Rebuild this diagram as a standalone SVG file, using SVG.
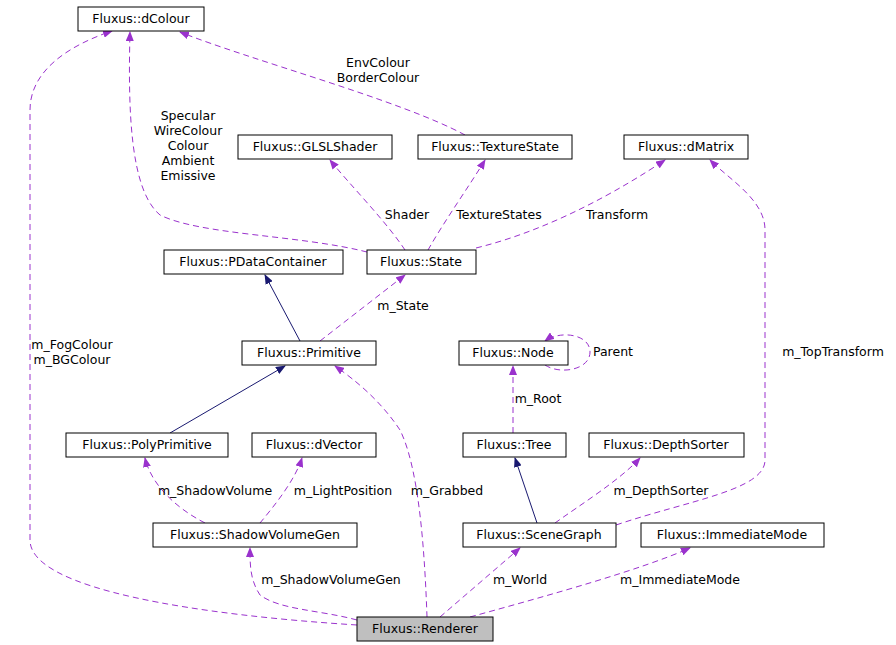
<svg xmlns="http://www.w3.org/2000/svg" width="896" height="645" viewBox="0 0 896 645">
<style>
.n rect{fill:#fff;stroke:#000;stroke-width:1}
text{font-family:"DejaVu Sans",sans-serif;font-size:12.5px;fill:#000;text-anchor:middle}
.d{fill:none;stroke:#9a32cd;stroke-width:1;stroke-dasharray:6,4}
.s{fill:none;stroke:#191970;stroke-width:1}
</style>
<defs>
<marker id="ap" markerWidth="10" markerHeight="8" refX="9" refY="4" orient="auto" markerUnits="userSpaceOnUse"><path d="M0,0L10,4L0,8z" fill="#9a32cd"/></marker>
<marker id="an" markerWidth="10" markerHeight="8" refX="9" refY="4" orient="auto" markerUnits="userSpaceOnUse"><path d="M0,0L10,4L0,8z" fill="#191970"/></marker>
</defs>
<rect width="896" height="645" fill="#fff"/>
<g id="connectors">
<path class="d" marker-end="url(#ap)" d="M357,625 C200,615 30,590 30,540 L30,110 C30,70 70,45 112,31"/>
<path class="d" marker-end="url(#ap)" d="M367,252 C300,235 200,235 160,215 C130,190 128,110 130,32"/>
<path class="d" marker-end="url(#ap)" d="M465,135 C400,100 250,60 180,32"/>
<path class="d" marker-end="url(#ap)" d="M405,250 C385,220 350,185 330,160"/>
<path class="d" marker-end="url(#ap)" d="M428,250 C445,220 470,185 485,160"/>
<path class="d" marker-end="url(#ap)" d="M476,248 C550,230 620,190 665,160"/>
<path class="s" marker-end="url(#an)" d="M300,341 L265,275"/>
<path class="d" marker-end="url(#ap)" d="M320,341 L405,275"/>
<path class="d" marker-end="url(#ap)" d="M545,365 C560,375 590,370 590,352 C590,334 560,330 545,341"/>
<path class="d" marker-end="url(#ap)" d="M513,433 L513,366"/>
<path class="s" marker-end="url(#an)" d="M170,433 L285,366"/>
<path class="d" marker-end="url(#ap)" d="M205,523 C170,505 150,480 145,458"/>
<path class="d" marker-end="url(#ap)" d="M260,523 C275,505 295,480 302,458"/>
<path class="d" marker-end="url(#ap)" d="M427,617 C425,560 420,470 400,430 C380,400 355,380 335,366"/>
<path class="s" marker-end="url(#an)" d="M537,523 L515,458"/>
<path class="d" marker-end="url(#ap)" d="M555,523 C580,505 620,480 640,458"/>
<path class="d" marker-end="url(#ap)" d="M616,525 C690,500 765,490 765,460 L765,230 C765,200 730,180 710,160"/>
<path class="d" marker-end="url(#ap)" d="M357,620 C320,610 280,610 260,595 C250,580 250,565 250,548"/>
<path class="d" marker-end="url(#ap)" d="M440,617 L520,548"/>
<path class="d" marker-end="url(#ap)" d="M470,617 C550,595 640,570 690,548"/>
<text x="72" y="349">m_FogColour</text><text x="72" y="364">m_BGColour</text>
<text x="188" y="120">Specular</text><text x="188" y="135">WireColour</text><text x="188" y="150">Colour</text><text x="188" y="165">Ambient</text><text x="188" y="180">Emissive</text>
<text x="378" y="67">EnvColour</text><text x="378" y="82">BorderColour</text>
<text x="407" y="219">Shader</text>
<text x="499" y="219">TextureStates</text>
<text x="617" y="219">Transform</text>
<text x="403" y="310">m_State</text>
<text x="613" y="356">Parent</text>
<text x="538" y="403">m_Root</text>
<text x="833" y="356">m_TopTransform</text>
<text x="215" y="495">m_ShadowVolume</text>
<text x="343" y="495">m_LightPosition</text>
<text x="447" y="495">m_Grabbed</text>
<text x="661" y="495">m_DepthSorter</text>
<text x="331" y="584">m_ShadowVolumeGen</text>
<text x="520" y="584">m_World</text>
<text x="680" y="584">m_ImmediateMode</text>
</g>
<g id="dColour" class="n"><rect x="78" y="7" width="126" height="24"/><text x="141" y="23">Fluxus::dColour</text></g>
<g id="GLSLShader" class="n"><rect x="238" y="135" width="154" height="24"/><text x="315" y="151">Fluxus::GLSLShader</text></g>
<g id="TextureState" class="n"><rect x="418" y="135" width="154" height="24"/><text x="495" y="151">Fluxus::TextureState</text></g>
<g id="dMatrix" class="n"><rect x="624" y="135" width="124" height="24"/><text x="686" y="151">Fluxus::dMatrix</text></g>
<g id="PDataContainer" class="n"><rect x="164" y="250" width="179" height="24"/><text x="253" y="266">Fluxus::PDataContainer</text></g>
<g id="State" class="n"><rect x="367" y="250" width="109" height="24"/><text x="421" y="266">Fluxus::State</text></g>
<g id="Primitive" class="n"><rect x="242" y="341" width="134" height="24"/><text x="309" y="357">Fluxus::Primitive</text></g>
<g id="Node" class="n"><rect x="459" y="341" width="109" height="24"/><text x="513" y="357">Fluxus::Node</text></g>
<g id="PolyPrimitive" class="n"><rect x="66" y="433" width="162" height="24"/><text x="147" y="449">Fluxus::PolyPrimitive</text></g>
<g id="dVector" class="n"><rect x="252" y="433" width="124" height="24"/><text x="314" y="449">Fluxus::dVector</text></g>
<g id="Tree" class="n"><rect x="463" y="433" width="103" height="24"/><text x="514" y="449">Fluxus::Tree</text></g>
<g id="DepthSorter" class="n"><rect x="589" y="433" width="155" height="24"/><text x="666" y="449">Fluxus::DepthSorter</text></g>
<g id="ShadowVolumeGen" class="n"><rect x="153" y="523" width="204" height="24"/><text x="255" y="539">Fluxus::ShadowVolumeGen</text></g>
<g id="SceneGraph" class="n"><rect x="463" y="523" width="153" height="24"/><text x="539" y="539">Fluxus::SceneGraph</text></g>
<g id="ImmediateMode" class="n"><rect x="641" y="523" width="183" height="24"/><text x="732" y="539">Fluxus::ImmediateMode</text></g>
<g id="Renderer" class="n"><rect x="357" y="617" width="136" height="24" style="fill:#bfbfbf"/><text x="425" y="633">Fluxus::Renderer</text></g>
</svg>
